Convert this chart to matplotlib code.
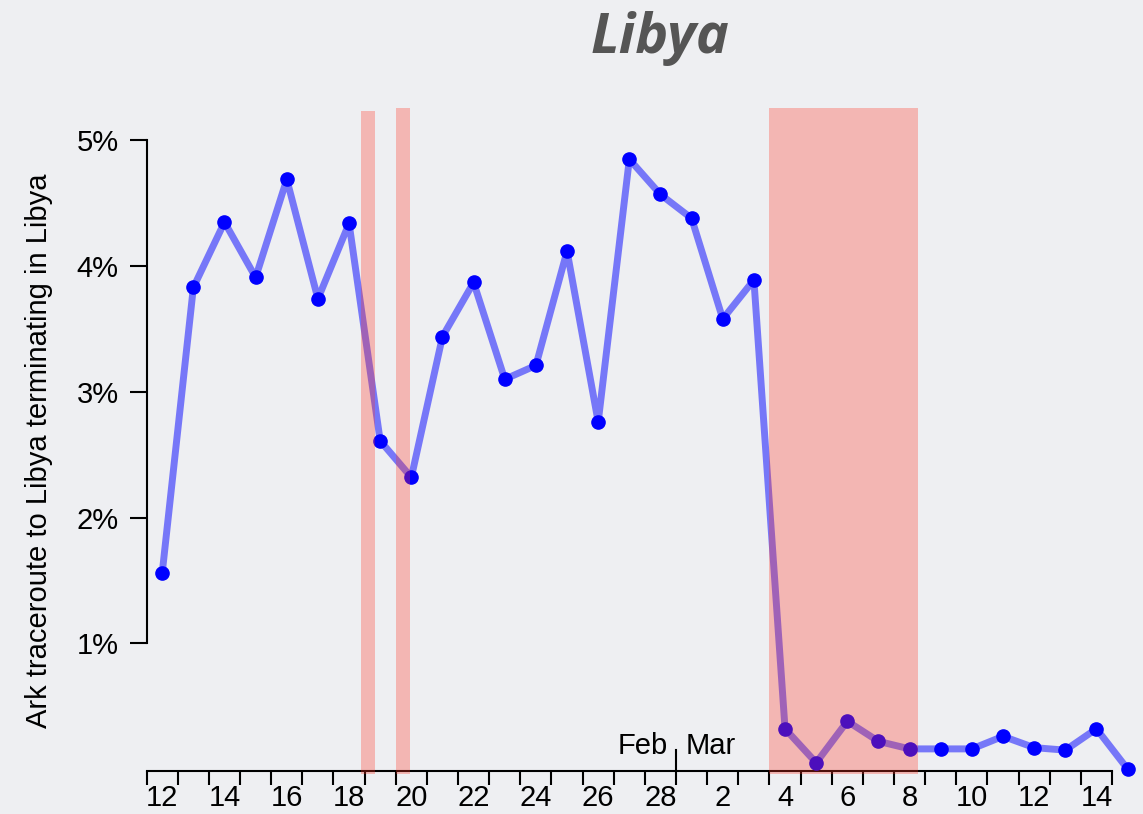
import numpy as np
import pandas as pd
import matplotlib
matplotlib.use('Agg')
import matplotlib.pyplot as plt
import matplotlib.dates as mdates

plt.rcParams['font.family'] = ['Liberation Sans', 'DejaVu Sans']

# daily share of Ark traceroutes to Libya that end inside Libya (%)
dates = pd.date_range('2011-02-12', '2011-03-15', freq='D')
share = [1.56, 3.83, 4.35, 3.91, 4.69, 3.74, 4.34, 2.61, 2.32, 3.44,
         3.87, 3.10, 3.21, 4.12, 2.76, 4.85, 4.57, 4.38, 3.58, 3.89,
         0.32, 0.05, 0.38, 0.22, 0.16, 0.16, 0.16, 0.26, 0.17, 0.15,
         0.32, 0.00]

# outage periods (start, end, top of band in %)
outages = [('2011-02-18 21:00', '2011-02-19 08:00', 5.23),
           ('2011-02-20 00:00', '2011-02-20 11:00', 5.26),
           ('2011-03-04 00:00', '2011-03-08 18:15', 5.26)]

bg = '#eeeff2'
fig = plt.figure(figsize=(11.43, 8.14), dpi=100, facecolor=bg)
ax = fig.add_axes([0.1283, 0.0528, 0.8446, 0.8158])
ax.set_facecolor(bg)

x = mdates.date2num(dates) + 0.5
ax.plot(x, share, color='blue', alpha=0.5, lw=5, zorder=2, clip_on=False,
        solid_joinstyle='round', solid_capstyle='round')
ax.plot(x, share, 'o', color='blue', ms=9.5, zorder=3, clip_on=False)

for start, end, top in outages:
    x0 = mdates.date2num(pd.Timestamp(start))
    x1 = mdates.date2num(pd.Timestamp(end))
    ax.fill_between([x0, x1], [-0.04, -0.04], [top, top], color='#ff3322',
                    alpha=0.3, lw=0, zorder=4, clip_on=False)

x_start = mdates.date2num(dates[0])
x_end = mdates.date2num(dates[-1])
ax.set_xlim(x_start, x_end)
ax.set_ylim(-0.016, 5.266)

# axes styling
for s in ['top', 'right']:
    ax.spines[s].set_visible(False)
ax.spines['left'].set_bounds(1, 5)
ax.spines['left'].set_linewidth(1.5)
ax.spines['bottom'].set_linewidth(1.5)

ax.set_yticks([1, 2, 3, 4, 5])
ax.set_yticklabels(['1%', '2%', '3%', '4%', '5%'])
ax.tick_params(axis='y', length=12, width=1.5, pad=8, labelsize=21)

midnights = mdates.date2num(dates)
ax.set_xticks(midnights)
ax.set_xticklabels([])
ax.tick_params(axis='x', which='major', length=10, width=1.5)
noons = midnights[::2] + 0.5
ax.set_xticks(noons, minor=True)
ax.set_xticklabels([str(d.day) for d in dates[::2]], minor=True)
ax.tick_params(axis='x', which='minor', length=0, pad=9, labelsize=21)

# month boundary marker
mar1 = mdates.date2num(pd.Timestamp('2011-03-01'))
ax.plot([mar1, mar1], [-0.016, 0.15], color='black', lw=1.5, zorder=5, clip_on=False)
ax.text(mar1 - 0.25, 0.18, 'Feb', ha='right', va='center', fontsize=21)
ax.text(mar1 + 0.3, 0.18, 'Mar', ha='left', va='center', fontsize=21)

ax.set_ylabel('Ark traceroute to Libya terminating in Libya', fontsize=21)
ax.yaxis.set_label_coords(-0.097, 0.483)

fig.text(0.577, 0.953, 'Libya', ha='center', va='center', fontsize=40,
         fontweight='bold', style='italic', color='#555555', family=['Open Sans', 'DejaVu Sans'])

fig.savefig('out.png', dpi=100, facecolor=bg)
